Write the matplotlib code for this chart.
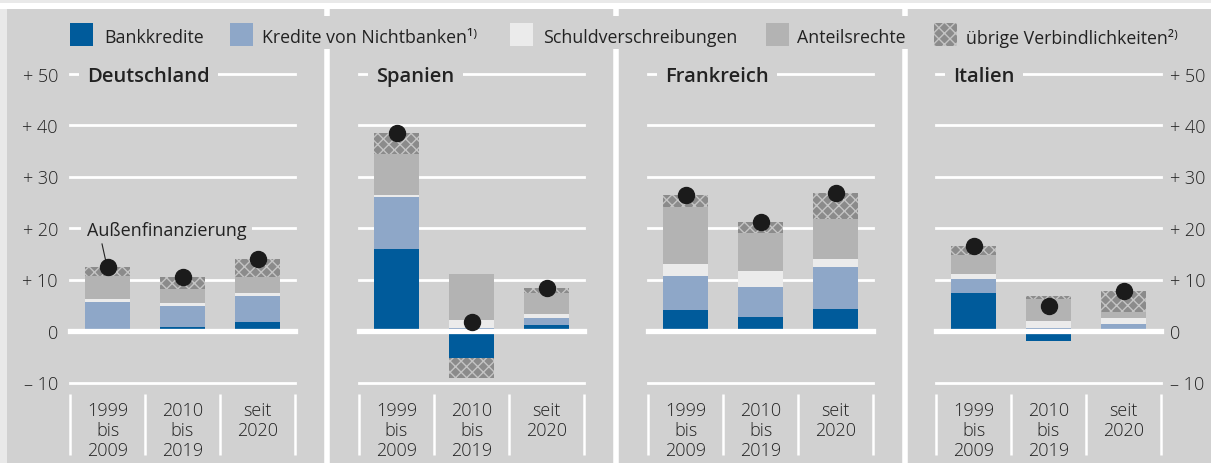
import matplotlib
matplotlib.use("Agg")
import matplotlib.pyplot as plt
from matplotlib.patches import Rectangle
from matplotlib.lines import Line2D
from matplotlib.transforms import blended_transform_factory
import numpy as np

plt.rcParams['font.family'] = ['Open Sans', 'DejaVu Sans']
plt.rcParams['hatch.linewidth'] = 1.0

# ---- data (Prozent) ----
countries = ["Deutschland", "Spanien", "Frankreich", "Italien"]
periods = [["1999", "bis", "2009"], ["2010", "bis", "2019"], ["seit", "2020"]]
series_names = ["Bankkredite", "Kredite von Nichtbanken\u00b9\u207e",
                "Schuldverschreibungen", "Anteilsrechte",
                "übrige Verbindlichkeiten\u00b2\u207e"]

bankkredite = {
    "Deutschland": [0.0, 0.8, 1.7],
    "Spanien":     [15.9, -5.2, 1.1],
    "Frankreich":  [4.0, 2.7, 4.3],
    "Italien":     [7.3, -2.0, 0.0],
}
nichtbanken = {
    "Deutschland": [5.7, 4.1, 5.0],
    "Spanien":     [10.1, 0.5, 1.4],
    "Frankreich":  [6.7, 5.9, 8.1],
    "Italien":     [2.8, 0.5, 1.3],
}
schuldverschreibungen = {
    "Deutschland": [0.6, 0.6, 0.7],
    "Spanien":     [0.5, 1.7, 0.8],
    "Frankreich":  [2.4, 3.0, 1.5],
    "Italien":     [0.9, 1.5, 1.2],
}
anteilsrechte = {
    "Deutschland": [4.4, 2.7, 3.1],
    "Spanien":     [7.9, 8.8, 4.1],
    "Frankreich":  [11.0, 7.5, 7.9],
    "Italien":     [3.8, 4.3, 1.2],
}
uebrige = {
    "Deutschland": [1.8, 2.3, 3.5],
    "Spanien":     [4.0, -4.0, 0.9],
    "Frankreich":  [2.3, 2.0, 5.0],
    "Italien":     [1.7, 0.5, 4.1],
}
yticks = [-10, 0, 10, 20, 30, 40, 50]
ytick_labels = ["\u2013 10", "0", "+ 10", "+ 20", "+ 30", "+ 40", "+ 50"]

# ---- style ----
BG = "#d1d1d1"
TXT = "#222222"
C_BANK = "#005b9b"
C_NB = "#8ea7c8"
C_SV = "#ebebeb"
C_AR = "#b3b3b3"
C_UV = "#8b8b8b"
C_HATCH = "#c4c4c4"

W, H = 1211, 464
fig = plt.figure(figsize=(W / 100, H / 100), dpi=100, facecolor=BG)


def fx(x):
    return x / W


def fy(y):
    return 1 - y / H


def frect(x0, y0, x1, y1, **kw):
    fig.add_artist(Rectangle((fx(x0), fy(y1)), fx(x1) - fx(x0), fy(y0) - fy(y1),
                             transform=fig.transFigure, lw=0, **kw))


def fline(x0, y0, x1, y1, **kw):
    fig.add_artist(Line2D([fx(x0), fx(x1)], [fy(y0), fy(y1)],
                          transform=fig.transFigure, **kw))


# frame strips
frect(0, 0, W, 4, color="#e9e9e9")
frect(0, 4, W, 10, color="white")
frect(0, 10, 7, H, color="#e9e9e9")

# panel separators
for sx in [327, 616, 905]:
    fline(sx, 10, sx, 17, color="white", lw=4.0, solid_capstyle="butt")
    fline(sx, 50, sx, H, color="white", lw=4.0, solid_capstyle="butt")

# legend
leg = [(70, C_BANK, None, series_names[0], 104),
       (230, C_NB, None, series_names[1], 262),
       (510, C_SV, None, series_names[2], 543),
       (766, C_AR, None, series_names[3], 797),
       (934, C_UV, "xxx", series_names[4], 966)]
for x0, col, hatch, label, tx in leg:
    r = Rectangle((fx(x0), fy(47)), fx(23), 23 / H, transform=fig.transFigure,
                  facecolor=col, edgecolor=C_HATCH if hatch else col, lw=0, hatch=hatch)
    fig.add_artist(r)
    fig.text(fx(tx), fy(36), label, ha="left", va="center_baseline",
             fontsize=12.8, color=TXT)

# panels
ax_left = [70, 359, 648, 936]
ax_w = 225
y_top, y_bot = 74.5, 383.5
x = np.arange(3)
bw = 0.6

axes = []
for i, c in enumerate(countries):
    ax = fig.add_axes([fx(ax_left[i]), fy(y_bot), ax_w / W, (y_bot - y_top) / H])
    ax.set_xlim(-0.5, 2.5)
    ax.set_ylim(-10, 50)
    ax.axis("off")
    ax.patch.set_alpha(0)
    axes.append(ax)

    for g in [-10, 10, 20, 30, 40, 50]:
        ax.axhline(g, color="white", lw=2.0, zorder=0.5, clip_on=False)

    comps = [(bankkredite[c], C_BANK, None),
             (nichtbanken[c], C_NB, None),
             (schuldverschreibungen[c], C_SV, None),
             (anteilsrechte[c], C_AR, None),
             (uebrige[c], C_UV, "xxx")]
    pos = np.zeros(3)
    neg = np.zeros(3)
    for vals, col, hatch in comps:
        v = np.array(vals, dtype=float)
        bottoms = np.where(v >= 0, pos, neg)
        ax.bar(x, v, bw, bottom=bottoms, color=col, lw=0,
               edgecolor=C_HATCH if hatch else col, hatch=hatch, zorder=2)
        pos = pos + np.where(v > 0, v, 0)
        neg = neg + np.where(v < 0, v, 0)
    totals = pos + neg

    ax.axhline(0, color="white", lw=3.8, zorder=3, clip_on=False)
    ax.plot(x, totals, "o", ms=11.5, color="#1b1b1b", zorder=5, clip_on=False)

    # panel title masking the top gridline
    ax.text(-0.5 + 17 / 75, 50, c, ha="left", va="center_baseline", fontsize=14.5,
            fontweight="semibold", color=TXT, zorder=4,
            bbox=dict(facecolor=BG, edgecolor="none", pad=6))

    # category labels and separators
    bt = blended_transform_factory(ax.transData, fig.transFigure)
    for j, lines in enumerate(periods):
        for k, word in enumerate(lines):
            ax.text(j, fy(409 + 20 * k), word, transform=bt, ha="center",
                    va="center_baseline", fontsize=13, fontweight="light",
                    color=TXT)
    for k in range(4):
        sx = ax_left[i] + k * 75
        fline(sx, 395, sx, 456, color="white", lw=1.8, solid_capstyle="butt")

# annotation for the total
ax0 = axes[0]
ax0.text(-0.5 + 17 / 75, 20, "Außenfinanzierung", ha="left", va="center_baseline",
         fontsize=13, color=TXT, zorder=4,
         bbox=dict(facecolor=BG, edgecolor="none", pad=4))
ax0.plot([-0.073, -0.02], [16.9, 13.4], color=TXT, lw=0.8, zorder=4)

# y tick labels on both sides
bl = blended_transform_factory(fig.transFigure, axes[0].transData)
br = blended_transform_factory(fig.transFigure, axes[3].transData)
for v, lab in zip(yticks, ytick_labels):
    fig.text(fx(58), v, lab, transform=bl, ha="right", va="center_baseline",
             fontsize=13, fontweight="light", color=TXT)
    fig.text(fx(1170), v, lab, transform=br, ha="left", va="center_baseline",
             fontsize=13, fontweight="light", color=TXT)

fig.savefig("out.png", dpi=100, facecolor=BG)
